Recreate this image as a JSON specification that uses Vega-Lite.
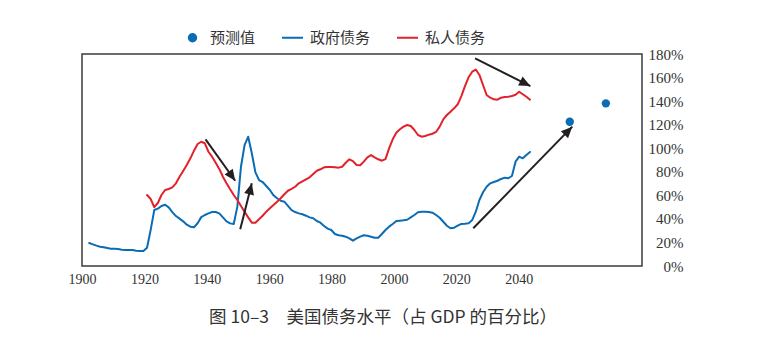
{
  "$schema": "https://vega.github.io/schema/vega-lite/v6.json",
  "autosize": {"type": "none"},
  "padding": {"left": 82, "top": 54, "right": 121, "bottom": 97},
  "width": 560,
  "height": 212,
  "background": "white",
  "title": {
    "text": "图 10–3　美国债务水平（占 GDP 的百分比）",
    "orient": "bottom",
    "anchor": "middle",
    "frame": "group",
    "dx": 21,
    "offset": 23,
    "font": "Noto Sans CJK SC",
    "fontSize": 17.5,
    "fontWeight": "normal",
    "color": "#333333"
  },
  "config": {
    "view": {"stroke": "#3c3c3c", "strokeWidth": 1.5},
    "axis": {"grid": false, "domain": false, "ticks": false, "title": null}
  },
  "datasets": {
    "debt": [
      {"year": 1902, "value": 19.5, "series": "政府债务"},
      {"year": 1903, "value": 18.4, "series": "政府债务"},
      {"year": 1904, "value": 17.3, "series": "政府债务"},
      {"year": 1905, "value": 16.4, "series": "政府债务"},
      {"year": 1906, "value": 15.9, "series": "政府债务"},
      {"year": 1907, "value": 15.3, "series": "政府债务"},
      {"year": 1908, "value": 14.7, "series": "政府债务"},
      {"year": 1909, "value": 14.7, "series": "政府债务"},
      {"year": 1910, "value": 14.4, "series": "政府债务"},
      {"year": 1911, "value": 13.8, "series": "政府债务"},
      {"year": 1912, "value": 13.6, "series": "政府债务"},
      {"year": 1913, "value": 13.6, "series": "政府债务"},
      {"year": 1914, "value": 13.6, "series": "政府债务"},
      {"year": 1915, "value": 13.0, "series": "政府债务"},
      {"year": 1916, "value": 12.7, "series": "政府债务"},
      {"year": 1917, "value": 12.7, "series": "政府债务"},
      {"year": 1918, "value": 15.5, "series": "政府债务"},
      {"year": 1919, "value": 30.6, "series": "政府债务"},
      {"year": 1920, "value": 47.5, "series": "政府债务"},
      {"year": 1921, "value": 48.7, "series": "政府债务"},
      {"year": 1922, "value": 51.0, "series": "政府债务"},
      {"year": 1923, "value": 52.0, "series": "政府债务"},
      {"year": 1924, "value": 49.8, "series": "政府债务"},
      {"year": 1925, "value": 45.8, "series": "政府债务"},
      {"year": 1926, "value": 42.4, "series": "政府债务"},
      {"year": 1927, "value": 40.2, "series": "政府债务"},
      {"year": 1928, "value": 37.9, "series": "政府债务"},
      {"year": 1929, "value": 35.1, "series": "政府债务"},
      {"year": 1930, "value": 33.4, "series": "政府债务"},
      {"year": 1931, "value": 32.9, "series": "政府债务"},
      {"year": 1932, "value": 36.3, "series": "政府债务"},
      {"year": 1933, "value": 41.5, "series": "政府债务"},
      {"year": 1934, "value": 43.3, "series": "政府债务"},
      {"year": 1935, "value": 44.7, "series": "政府债务"},
      {"year": 1936, "value": 45.8, "series": "政府债务"},
      {"year": 1937, "value": 45.8, "series": "政府债务"},
      {"year": 1938, "value": 44.7, "series": "政府债务"},
      {"year": 1939, "value": 41.3, "series": "政府债务"},
      {"year": 1940, "value": 37.9, "series": "政府债务"},
      {"year": 1941, "value": 36.2, "series": "政府债务"},
      {"year": 1942, "value": 35.7, "series": "政府债务"},
      {"year": 1943, "value": 50.4, "series": "政府债务"},
      {"year": 1944, "value": 84.3, "series": "政府债务"},
      {"year": 1945, "value": 102.7, "series": "政府债务"},
      {"year": 1946, "value": 109.8, "series": "政府债务"},
      {"year": 1947, "value": 95.7, "series": "政府债务"},
      {"year": 1948, "value": 79.5, "series": "政府债务"},
      {"year": 1949, "value": 73.0, "series": "政府债务"},
      {"year": 1950, "value": 71.3, "series": "政府债务"},
      {"year": 1951, "value": 67.9, "series": "政府债务"},
      {"year": 1952, "value": 64.5, "series": "政府债务"},
      {"year": 1953, "value": 60.0, "series": "政府债务"},
      {"year": 1954, "value": 57.5, "series": "政府债务"},
      {"year": 1955, "value": 55.4, "series": "政府债务"},
      {"year": 1956, "value": 54.6, "series": "政府债务"},
      {"year": 1957, "value": 51.0, "series": "政府债务"},
      {"year": 1958, "value": 47.5, "series": "政府债务"},
      {"year": 1959, "value": 45.8, "series": "政府债务"},
      {"year": 1960, "value": 44.7, "series": "政府债务"},
      {"year": 1961, "value": 43.9, "series": "政府债务"},
      {"year": 1962, "value": 42.7, "series": "政府债务"},
      {"year": 1963, "value": 41.3, "series": "政府债务"},
      {"year": 1964, "value": 40.5, "series": "政府债务"},
      {"year": 1965, "value": 38.2, "series": "政府债务"},
      {"year": 1966, "value": 36.8, "series": "政府债务"},
      {"year": 1967, "value": 34.0, "series": "政府债务"},
      {"year": 1968, "value": 31.7, "series": "政府债务"},
      {"year": 1969, "value": 30.6, "series": "政府债务"},
      {"year": 1970, "value": 27.2, "series": "政府债务"},
      {"year": 1971, "value": 26.1, "series": "政府债务"},
      {"year": 1972, "value": 25.7, "series": "政府债务"},
      {"year": 1973, "value": 24.9, "series": "政府债务"},
      {"year": 1974, "value": 23.5, "series": "政府债务"},
      {"year": 1975, "value": 21.5, "series": "政府债务"},
      {"year": 1976, "value": 23.5, "series": "政府债务"},
      {"year": 1977, "value": 24.9, "series": "政府债务"},
      {"year": 1978, "value": 26.1, "series": "政府债务"},
      {"year": 1979, "value": 25.7, "series": "政府债务"},
      {"year": 1980, "value": 24.9, "series": "政府债务"},
      {"year": 1981, "value": 24.0, "series": "政府债务"},
      {"year": 1982, "value": 24.0, "series": "政府债务"},
      {"year": 1983, "value": 27.2, "series": "政府债务"},
      {"year": 1984, "value": 30.6, "series": "政府债务"},
      {"year": 1985, "value": 33.4, "series": "政府债务"},
      {"year": 1986, "value": 35.7, "series": "政府债务"},
      {"year": 1987, "value": 38.2, "series": "政府债务"},
      {"year": 1988, "value": 38.5, "series": "政府债务"},
      {"year": 1989, "value": 38.8, "series": "政府债务"},
      {"year": 1990, "value": 39.3, "series": "政府债务"},
      {"year": 1991, "value": 41.3, "series": "政府债务"},
      {"year": 1992, "value": 43.3, "series": "政府债务"},
      {"year": 1993, "value": 45.6, "series": "政府债务"},
      {"year": 1994, "value": 46.1, "series": "政府债务"},
      {"year": 1995, "value": 46.1, "series": "政府债务"},
      {"year": 1996, "value": 45.8, "series": "政府债务"},
      {"year": 1997, "value": 45.3, "series": "政府债务"},
      {"year": 1998, "value": 43.3, "series": "政府债务"},
      {"year": 1999, "value": 41.0, "series": "政府债务"},
      {"year": 2000, "value": 37.6, "series": "政府债务"},
      {"year": 2001, "value": 34.2, "series": "政府债务"},
      {"year": 2002, "value": 32.0, "series": "政府债务"},
      {"year": 2003, "value": 32.5, "series": "政府债务"},
      {"year": 2004, "value": 34.2, "series": "政府债务"},
      {"year": 2005, "value": 35.7, "series": "政府债务"},
      {"year": 2006, "value": 35.9, "series": "政府债务"},
      {"year": 2007, "value": 36.2, "series": "政府债务"},
      {"year": 2008, "value": 39.0, "series": "政府债务"},
      {"year": 2009, "value": 46.1, "series": "政府债务"},
      {"year": 2010, "value": 56.0, "series": "政府债务"},
      {"year": 2011, "value": 62.6, "series": "政府债务"},
      {"year": 2012, "value": 67.3, "series": "政府债务"},
      {"year": 2013, "value": 70.2, "series": "政府债务"},
      {"year": 2014, "value": 71.3, "series": "政府债务"},
      {"year": 2015, "value": 72.4, "series": "政府债务"},
      {"year": 2016, "value": 73.9, "series": "政府债务"},
      {"year": 2017, "value": 75.0, "series": "政府债务"},
      {"year": 2018, "value": 74.5, "series": "政府债务"},
      {"year": 2019, "value": 76.4, "series": "政府债务"},
      {"year": 2020, "value": 88.6, "series": "政府债务"},
      {"year": 2021, "value": 92.8, "series": "政府债务"},
      {"year": 2022, "value": 91.4, "series": "政府债务"},
      {"year": 2023, "value": 94.2, "series": "政府债务"},
      {"year": 2024, "value": 96.8, "series": "政府债务"},
      {"year": 1918, "value": 60.3, "series": "私人债务"},
      {"year": 1919, "value": 56.9, "series": "私人债务"},
      {"year": 1920, "value": 50.0, "series": "私人债务"},
      {"year": 1921, "value": 53.5, "series": "私人债务"},
      {"year": 1922, "value": 60.3, "series": "私人债务"},
      {"year": 1923, "value": 64.5, "series": "私人债务"},
      {"year": 1924, "value": 65.4, "series": "私人债务"},
      {"year": 1925, "value": 66.8, "series": "私人债务"},
      {"year": 1926, "value": 70.2, "series": "私人债务"},
      {"year": 1927, "value": 75.8, "series": "私人债务"},
      {"year": 1928, "value": 80.7, "series": "私人债务"},
      {"year": 1929, "value": 85.8, "series": "私人债务"},
      {"year": 1930, "value": 91.4, "series": "私人债务"},
      {"year": 1931, "value": 97.9, "series": "私人债务"},
      {"year": 1932, "value": 103.6, "series": "私人债务"},
      {"year": 1933, "value": 105.5, "series": "私人债务"},
      {"year": 1934, "value": 104.2, "series": "私人债务"},
      {"year": 1935, "value": 97.0, "series": "私人债务"},
      {"year": 1936, "value": 92.8, "series": "私人债务"},
      {"year": 1937, "value": 87.7, "series": "私人债务"},
      {"year": 1938, "value": 82.4, "series": "私人债务"},
      {"year": 1939, "value": 75.8, "series": "私人债务"},
      {"year": 1940, "value": 70.2, "series": "私人债务"},
      {"year": 1941, "value": 65.1, "series": "私人债务"},
      {"year": 1942, "value": 60.3, "series": "私人债务"},
      {"year": 1943, "value": 56.0, "series": "私人债务"},
      {"year": 1944, "value": 51.0, "series": "私人债务"},
      {"year": 1945, "value": 46.1, "series": "私人债务"},
      {"year": 1946, "value": 41.3, "series": "私人债务"},
      {"year": 1947, "value": 36.8, "series": "私人债务"},
      {"year": 1948, "value": 36.8, "series": "私人债务"},
      {"year": 1949, "value": 39.7, "series": "私人债务"},
      {"year": 1950, "value": 42.7, "series": "私人债务"},
      {"year": 1951, "value": 46.1, "series": "私人债务"},
      {"year": 1952, "value": 49.0, "series": "私人债务"},
      {"year": 1953, "value": 51.8, "series": "私人债务"},
      {"year": 1954, "value": 54.6, "series": "私人债务"},
      {"year": 1955, "value": 57.5, "series": "私人债务"},
      {"year": 1956, "value": 60.9, "series": "私人债务"},
      {"year": 1957, "value": 63.9, "series": "私人债务"},
      {"year": 1958, "value": 65.4, "series": "私人债务"},
      {"year": 1959, "value": 67.3, "series": "私人债务"},
      {"year": 1960, "value": 70.2, "series": "私人债务"},
      {"year": 1961, "value": 71.9, "series": "私人债务"},
      {"year": 1962, "value": 73.6, "series": "私人债务"},
      {"year": 1963, "value": 75.3, "series": "私人债务"},
      {"year": 1964, "value": 78.1, "series": "私人债务"},
      {"year": 1965, "value": 80.9, "series": "私人债务"},
      {"year": 1966, "value": 82.1, "series": "私人债务"},
      {"year": 1967, "value": 83.8, "series": "私人债务"},
      {"year": 1968, "value": 84.0, "series": "私人债务"},
      {"year": 1969, "value": 84.0, "series": "私人债务"},
      {"year": 1970, "value": 83.8, "series": "私人债务"},
      {"year": 1971, "value": 83.5, "series": "私人债务"},
      {"year": 1972, "value": 84.3, "series": "私人债务"},
      {"year": 1973, "value": 87.7, "series": "私人债务"},
      {"year": 1974, "value": 90.6, "series": "私人债务"},
      {"year": 1975, "value": 89.1, "series": "私人债务"},
      {"year": 1976, "value": 85.8, "series": "私人债务"},
      {"year": 1977, "value": 85.5, "series": "私人债务"},
      {"year": 1978, "value": 88.6, "series": "私人债务"},
      {"year": 1979, "value": 92.3, "series": "私人债务"},
      {"year": 1980, "value": 94.2, "series": "私人债务"},
      {"year": 1981, "value": 92.3, "series": "私人债务"},
      {"year": 1982, "value": 90.6, "series": "私人债务"},
      {"year": 1983, "value": 89.4, "series": "私人债务"},
      {"year": 1984, "value": 90.8, "series": "私人债务"},
      {"year": 1985, "value": 99.9, "series": "私人债务"},
      {"year": 1986, "value": 107.6, "series": "私人债务"},
      {"year": 1987, "value": 113.2, "series": "私人债务"},
      {"year": 1988, "value": 116.1, "series": "私人债务"},
      {"year": 1989, "value": 118.3, "series": "私人债务"},
      {"year": 1990, "value": 119.7, "series": "私人债务"},
      {"year": 1991, "value": 118.9, "series": "私人债务"},
      {"year": 1992, "value": 115.5, "series": "私人债务"},
      {"year": 1993, "value": 111.2, "series": "私人债务"},
      {"year": 1994, "value": 109.8, "series": "私人债务"},
      {"year": 1995, "value": 110.4, "series": "私人债务"},
      {"year": 1996, "value": 111.5, "series": "私人债务"},
      {"year": 1997, "value": 112.3, "series": "私人债务"},
      {"year": 1998, "value": 113.8, "series": "私人债务"},
      {"year": 1999, "value": 118.3, "series": "私人债务"},
      {"year": 2000, "value": 124.5, "series": "私人债务"},
      {"year": 2001, "value": 128.2, "series": "私人债务"},
      {"year": 2002, "value": 131.0, "series": "私人债务"},
      {"year": 2003, "value": 133.9, "series": "私人债务"},
      {"year": 2004, "value": 137.3, "series": "私人债务"},
      {"year": 2005, "value": 144.3, "series": "私人债务"},
      {"year": 2006, "value": 152.8, "series": "私人债务"},
      {"year": 2007, "value": 160.2, "series": "私人债务"},
      {"year": 2008, "value": 165.0, "series": "私人债务"},
      {"year": 2009, "value": 166.8, "series": "私人债务"},
      {"year": 2010, "value": 162.2, "series": "私人债务"},
      {"year": 2011, "value": 153.7, "series": "私人债务"},
      {"year": 2012, "value": 145.2, "series": "私人债务"},
      {"year": 2013, "value": 142.9, "series": "私人债务"},
      {"year": 2014, "value": 141.5, "series": "私人债务"},
      {"year": 2015, "value": 141.2, "series": "私人债务"},
      {"year": 2016, "value": 142.9, "series": "私人债务"},
      {"year": 2017, "value": 143.5, "series": "私人债务"},
      {"year": 2018, "value": 143.7, "series": "私人债务"},
      {"year": 2019, "value": 144.3, "series": "私人债务"},
      {"year": 2020, "value": 145.4, "series": "私人债务"},
      {"year": 2021, "value": 148.0, "series": "私人债务"},
      {"year": 2022, "value": 145.8, "series": "私人债务"},
      {"year": 2023, "value": 143.7, "series": "私人债务"},
      {"year": 2024, "value": 141.2, "series": "私人债务"}
    ],
    "forecast": [
      {"year": 2035, "value": 122.5, "series": "预测值"},
      {"year": 2045, "value": 138.1, "series": "预测值"}
    ],
    "arrows": [
      {"x": 1934.2, "y": 107.5, "x2": 1942.4, "y2": 72.4},
      {"x": 1943.8, "y": 31.2, "x2": 1947.0, "y2": 70.2},
      {"x": 2008.8, "y": 176.3, "x2": 2024.1, "y2": 152.8},
      {"x": 2008.3, "y": 32.0, "x2": 2035.7, "y2": 118.3}
    ]
  },
  "layer": [
    {
      "data": {"name": "debt"},
      "mark": {"type": "line", "strokeWidth": 2, "strokeJoin": "round", "strokeCap": "round"},
      "encoding": {
        "x": {"field": "year", "type": "quantitative"},
        "y": {"field": "value", "type": "quantitative"},
        "color": {"field": "series", "type": "nominal"}
      }
    },
    {
      "data": {"name": "forecast"},
      "mark": {"type": "point", "filled": true, "size": 70, "opacity": 1},
      "encoding": {
        "x": {"field": "year", "type": "quantitative"},
        "y": {"field": "value", "type": "quantitative"},
        "color": {"field": "series", "type": "nominal"}
      }
    },
    {
      "data": {"name": "arrows"},
      "mark": {"type": "rule", "strokeWidth": 2},
      "encoding": {
        "x": {"field": "x", "type": "quantitative"},
        "y": {"field": "y", "type": "quantitative"},
        "x2": {"field": "x2"},
        "y2": {"field": "y2"},
        "color": {"value": "#231f20"}
      }
    },
    {
      "data": {"name": "arrows"},
      "transform": [
        {"calculate": "atan2((datum.x2 - datum.x) * 3.613, (datum.y2 - datum.y) * 1.1778) * 180 / PI", "as": "heading"}
      ],
      "mark": {"type": "point", "shape": "M0,0L0.45,1L-0.45,1Z", "filled": true, "size": 500, "opacity": 1},
      "encoding": {
        "x": {"field": "x2", "type": "quantitative"},
        "y": {"field": "y2", "type": "quantitative"},
        "angle": {"field": "heading", "type": "quantitative", "scale": null},
        "color": {"value": "#231f20"}
      }
    }
  ],
  "resolve": {"scale": {"x": "shared", "y": "shared", "color": "shared"}},
  "encoding": {
    "x": {
      "field": "year",
      "type": "quantitative",
      "scale": {"domain": [1900, 2055], "nice": false, "zero": false},
      "axis": {
        "orient": "bottom",
        "values": [1900, 1917.27, 1934.54, 1951.81, 1969.08, 1986.35, 2003.62, 2020.89],
        "labelExpr": "'' + (1900 + round((datum.value - 1900) / 17.27) * 20)",
        "labelFont": "Liberation Serif",
        "labelFontSize": 14,
        "labelColor": "#333333",
        "labelPadding": 6,
        "labelFlush": false
      }
    },
    "y": {
      "field": "value",
      "type": "quantitative",
      "scale": {"domain": [0, 180], "nice": false},
      "axis": {
        "orient": "right",
        "values": [0, 20, 40, 60, 80, 100, 120, 140, 160, 180],
        "labelExpr": "datum.value + '%'",
        "labelFont": "Liberation Serif",
        "labelFontSize": 15,
        "labelColor": "#333333",
        "labelAlign": "right",
        "labelPadding": 41,
        "labelFlush": false
      }
    },
    "color": {
      "field": "series",
      "type": "nominal",
      "scale": {"domain": ["预测值", "政府债务", "私人债务"], "range": ["#0a6cb5", "#0a6cb5", "#e3212b"]},
      "legend": {
        "title": null,
        "orient": "none",
        "direction": "horizontal",
        "legendX": 99,
        "legendY": -28,
        "labelFont": "Noto Sans CJK SC",
        "labelFontSize": 15,
        "labelColor": "#333333",
        "labelOffset": 6,
        "columnPadding": 22,
        "symbolSize": 441,
        "symbolType": "stroke",
        "encode": {
          "symbols": {
            "update": {
              "shape": {"signal": "datum.value === '预测值' ? 'circle' : 'stroke'"},
              "size": {"signal": "datum.value === '预测值' ? 55 : 441"},
              "fill": {"signal": "datum.value === '预测值' ? '#0a6cb5' : 'transparent'"},
              "stroke": {"signal": "datum.value === '预测值' ? 'transparent' : (datum.value === '政府债务' ? '#0a6cb5' : '#e3212b')"},
              "strokeWidth": {"value": 2},
              "opacity": {"value": 1}
            }
          }
        }
      }
    }
  }
}
